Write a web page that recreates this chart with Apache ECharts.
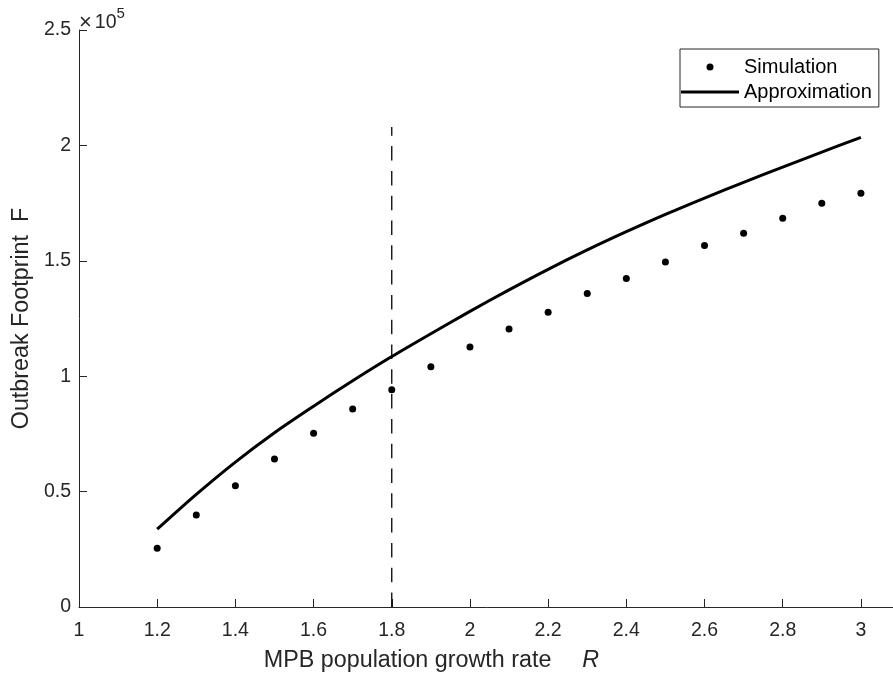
<!DOCTYPE html>
<html>
<head>
<meta charset="utf-8">
<style>
  html, body { margin: 0; padding: 0; background: #fff; }
  #chart { width: 893px; height: 678px; }
</style>
<script src="https://cdn.jsdelivr.net/npm/echarts@6/dist/echarts.min.js"></script>
</head>
<body>
<div id="chart"></div>
<script>
// Growth rate R sampled every 0.1
const growthRates = [1.2, 1.3, 1.4, 1.5, 1.6, 1.7, 1.8, 1.9, 2.0, 2.1, 2.2, 2.3, 2.4, 2.5, 2.6, 2.7, 2.8, 2.9, 3.0];
// Outbreak footprint F from simulation runs
const simulationF = [25500, 39900, 52500, 64100, 75300, 85800, 94100, 104100, 112600, 120400, 127700, 135800, 142300, 149500, 156600, 161900, 168400, 174900, 179300];
// Analytical approximation of F
const approximationF = [33700, 48800, 62800, 75500, 87000, 98000, 108500, 118400, 128100, 137400, 146300, 154700, 162600, 170100, 177200, 184000, 190600, 197100, 203500];
// Threshold marker at R = 1.8
const thresholdR = 1.8;
const thresholdTop = 208000;
// Axis ticks
const xTicks = [1, 1.2, 1.4, 1.6, 1.8, 2, 2.2, 2.4, 2.6, 2.8, 3];
const yTickLabels = ['0', '0.5', '1', '1.5', '2', '2.5'];

const FONT = 'Liberation Sans, Arial, sans-serif';
const INK = '#262626';

const chart = echarts.init(document.getElementById('chart'), null, { renderer: 'canvas' });

chart.setOption({
  backgroundColor: '#ffffff',
  animation: false,
  textStyle: { fontFamily: FONT },
  grid: {
    left: 79, right: -7, top: 30, bottom: 71,
    containLabel: false,
    outerBoundsMode: 'none'
  },
  xAxis: {
    type: 'value',
    min: 1, max: 3.1, interval: 0.2,
    axisLine: { show: true, onZero: false, lineStyle: { color: INK, width: 1 } },
    axisTick: { show: true, inside: true, length: 8, lineStyle: { color: INK } },
    splitLine: { show: false },
    axisLabel: {
      color: INK, fontSize: 19.5, fontFamily: FONT, margin: 14,
      showMaxLabel: false,
      formatter: v => {
        const hit = xTicks.find(t => Math.abs(t - v) < 1e-6);
        return hit === undefined ? '' : String(hit);
      }
    },
    name: '{t|MPB population growth rate}{g|}{r|R}',
    nameLocation: 'middle',
    nameGap: 42,
    nameTextStyle: {
      padding: [0, 116, 0, 0],
      rich: {
        t: { fontSize: 23.3, color: INK, fontFamily: FONT },
        g: { width: 31 },
        r: { fontSize: 23.3, color: INK, fontFamily: FONT, fontStyle: 'italic' }
      }
    }
  },
  yAxis: {
    type: 'value',
    min: 0, max: 250000, interval: 50000,
    axisLine: { show: true, lineStyle: { color: INK, width: 1 } },
    axisTick: { show: true, inside: true, length: 8, lineStyle: { color: INK } },
    splitLine: { show: false },
    axisLabel: {
      color: INK, fontSize: 19.5, fontFamily: FONT, margin: 8,
      formatter: (v, i) => yTickLabels[i]
    },
    name: 'Outbreak Footprint  F',
    nameLocation: 'middle',
    nameGap: 41,
    nameTextStyle: { fontSize: 23.3, color: INK, fontFamily: FONT }
  },
  legend: {
    data: [
      { name: 'Simulation', icon: 'circle' },
      { name: 'Approximation', icon: 'path://M0,0 L58,0 L58,3 L0,3 Z' }
    ],
    orient: 'vertical',
    left: 680, top: 49,
    padding: [8, 7, 5, 1],
    itemWidth: 58, itemHeight: 7, itemGap: 5,
    itemTextGap: 8,
    backgroundColor: '#ffffff',
    borderColor: INK, borderWidth: 1, borderRadius: 0,
    itemStyle: { opacity: 1 },
    textStyle: { fontSize: 20, color: '#000', fontFamily: FONT, lineHeight: 20 }
  },
  graphic: [{
    type: 'text',
    left: 79, top: 6,
    style: {
      text: '{x|×}{b|10}{e|5}',
      rich: {
        x: { fontSize: 22, fill: INK, fontFamily: FONT, padding: [9, 3, 0, 0] },
        b: { fontSize: 19.5, fill: INK, fontFamily: FONT, padding: [9, 0, 0, 0] },
        e: { fontSize: 15, fill: INK, fontFamily: FONT, padding: [0, 0, 9, 0] }
      }
    }
  }],
  series: [
    {
      name: 'Threshold',
      type: 'line',
      data: [[thresholdR, 0], [thresholdR, thresholdTop]],
      symbol: 'none',
      silent: true,
      lineStyle: { color: '#000', width: 1.3, type: [14.5, 10.3] },
      z: 1
    },
    {
      name: 'Approximation',
      type: 'line',
      data: growthRates.map((r, i) => [r, approximationF[i]]),
      smooth: 0.3,
      symbol: 'none',
      lineStyle: { color: '#000', width: 3 },
      itemStyle: { color: '#000', opacity: 1 },
      z: 2
    },
    {
      name: 'Simulation',
      type: 'scatter',
      data: growthRates.map((r, i) => [r, simulationF[i]]),
      symbol: 'circle',
      symbolSize: 7,
      itemStyle: { color: '#000', opacity: 1 },
      z: 3
    }
  ]
});
</script>
</body>
</html>
